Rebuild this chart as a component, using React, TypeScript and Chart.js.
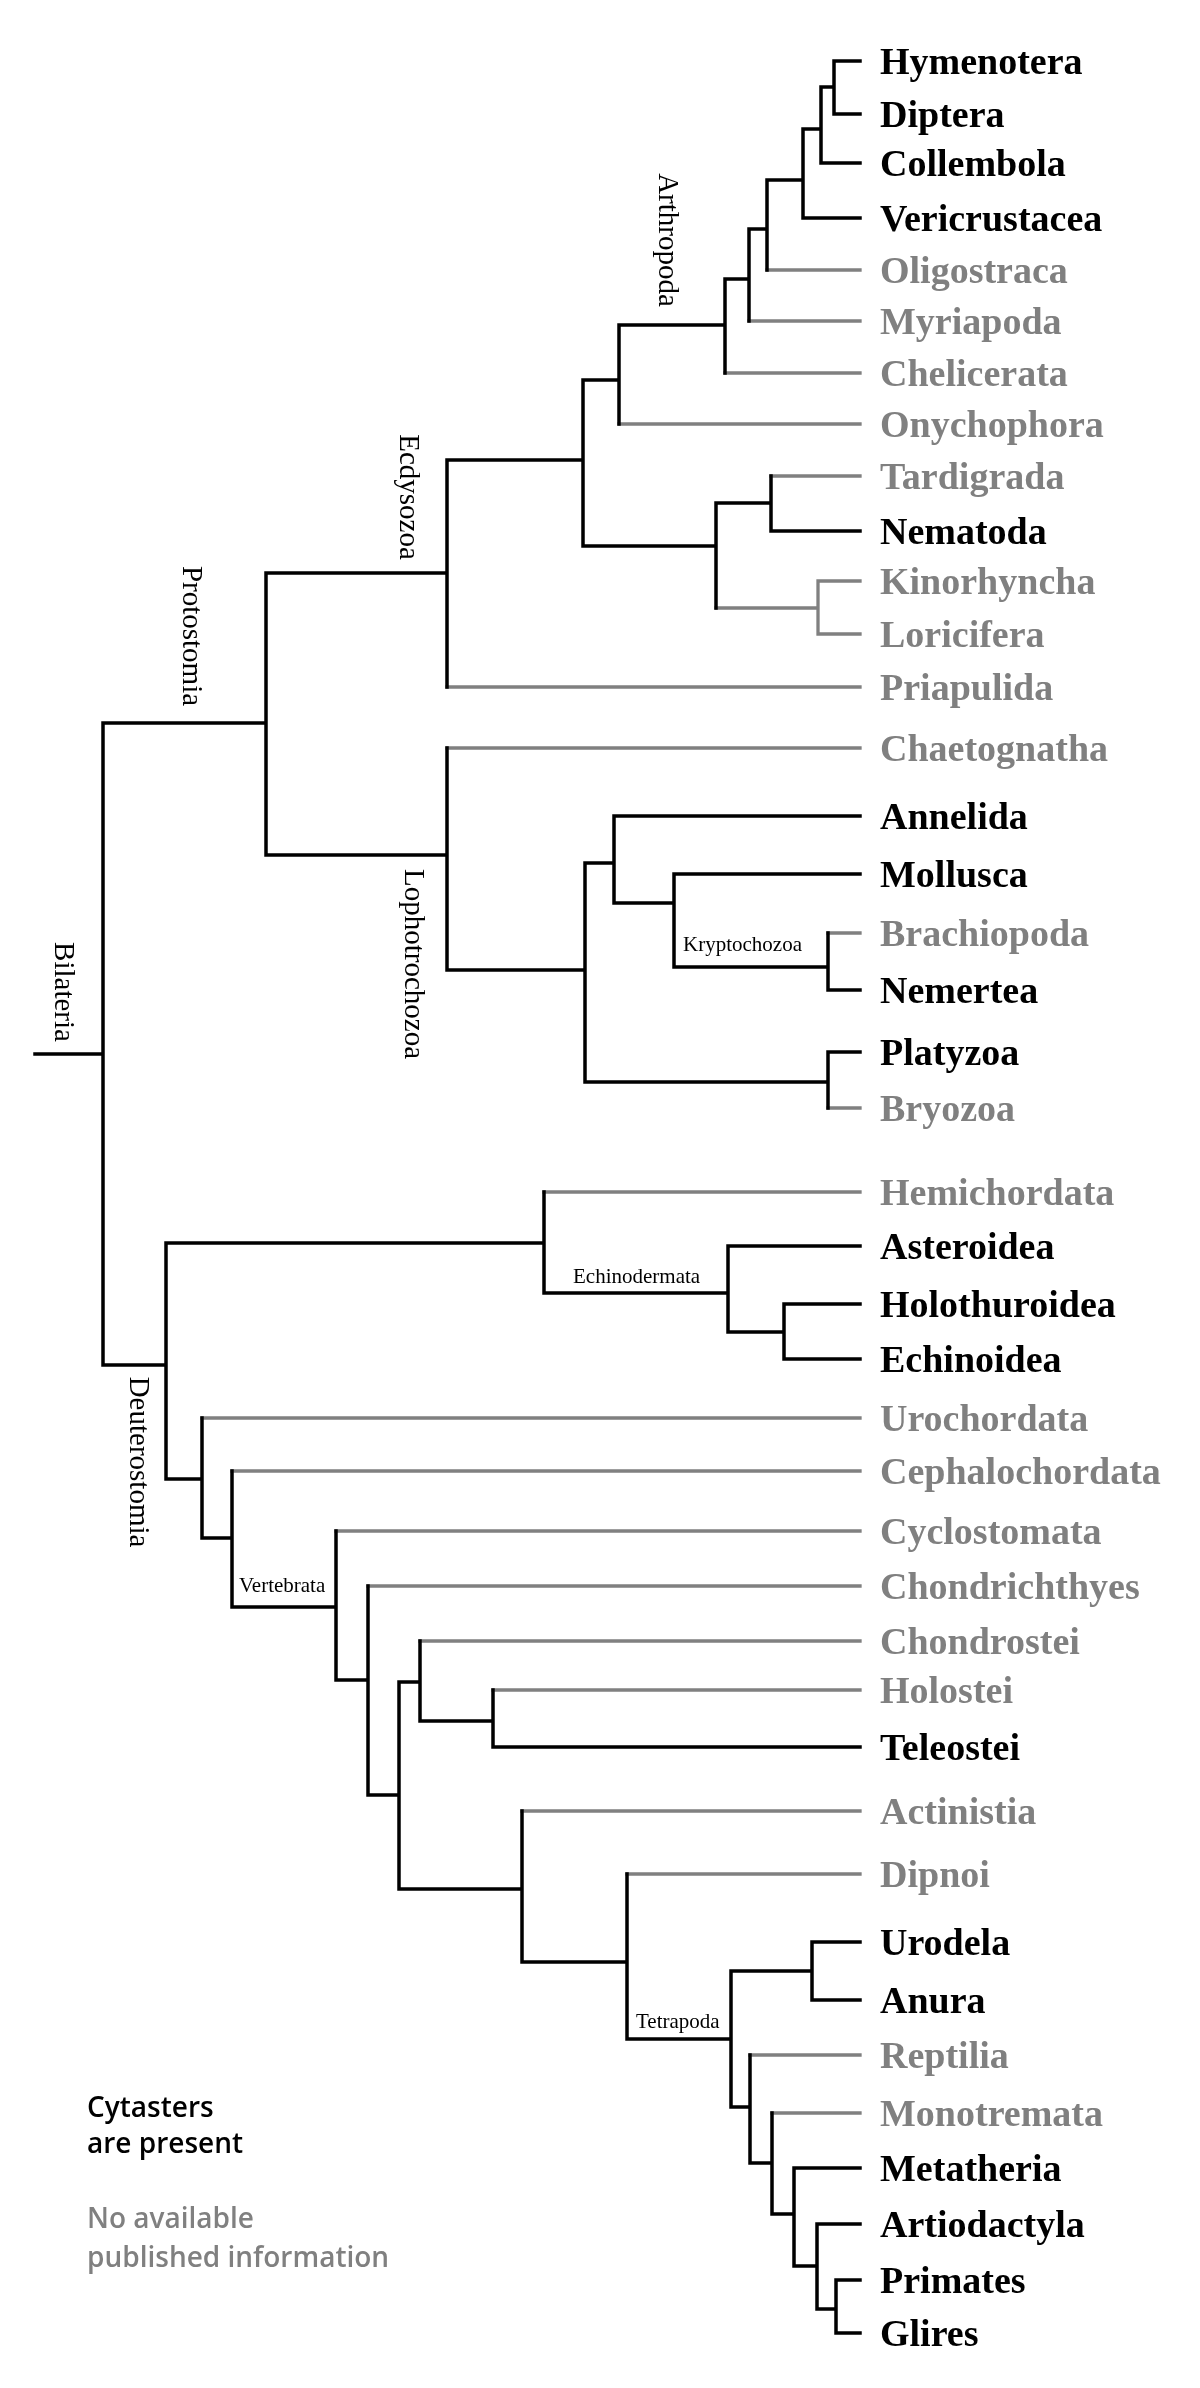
import React, { useEffect, useRef } from "react";
import { Chart, registerables } from "chart.js";

Chart.register(...registerables);

// ---- Taxa (leaves), top to bottom ----
const leafNames = [
  "Hymenotera", "Diptera", "Collembola", "Vericrustacea", "Oligostraca", "Myriapoda",
  "Chelicerata", "Onychophora", "Tardigrada", "Nematoda", "Kinorhyncha", "Loricifera",
  "Priapulida", "Chaetognatha", "Annelida", "Mollusca", "Brachiopoda", "Nemertea",
  "Platyzoa", "Bryozoa", "Hemichordata", "Asteroidea", "Holothuroidea", "Echinoidea",
  "Urochordata", "Cephalochordata", "Cyclostomata", "Chondrichthyes", "Chondrostei",
  "Holostei", "Teleostei", "Actinistia", "Dipnoi", "Urodela", "Anura", "Reptilia",
  "Monotremata", "Metatheria", "Artiodactyla", "Primates", "Glires",
];
// 1 = cytasters are present, 0 = no available published information
const leafPresent = [
  1, 1, 1, 1, 0, 0,
  0, 0, 0, 1, 0, 0,
  0, 0, 1, 1, 0, 1,
  1, 0, 0, 1, 1, 1,
  0, 0, 0, 0, 0,
  0, 1, 0, 0, 1, 1, 0,
  0, 1, 1, 1, 1,
];
// vertical position (row units) of each taxon
const leafRows = [
  61, 114, 163, 218, 270, 321,
  373, 424, 476, 531, 581, 634,
  687, 748, 816, 874, 933, 990,
  1052, 1108, 1192, 1246, 1304, 1359,
  1418, 1471, 1531, 1586, 1641,
  1690, 1747, 1811, 1874, 1942, 2000, 2055,
  2113, 2168, 2224, 2280, 2333,
];

// ---- Internal nodes: children (leaf name or node index), depth, row ----
const nodeChildren: (string | number)[][] = [
  ["Hymenotera", "Diptera"],      // 0
  [0, "Collembola"],              // 1
  [1, "Vericrustacea"],           // 2
  [2, "Oligostraca"],             // 3
  [3, "Myriapoda"],               // 4
  [4, "Chelicerata"],             // 5 Arthropoda
  [5, "Onychophora"],             // 6
  ["Tardigrada", "Nematoda"],     // 7
  ["Kinorhyncha", "Loricifera"],  // 8
  [7, 8],                         // 9
  [6, 9],                         // 10
  [10, "Priapulida"],             // 11 Ecdysozoa
  ["Brachiopoda", "Nemertea"],    // 12 Kryptochozoa
  ["Mollusca", 12],               // 13
  ["Annelida", 13],               // 14
  ["Platyzoa", "Bryozoa"],        // 15
  [14, 15],                       // 16
  ["Chaetognatha", 16],           // 17 Lophotrochozoa
  [11, 17],                       // 18 Protostomia
  ["Holothuroidea", "Echinoidea"],// 19
  ["Asteroidea", 19],             // 20 Echinodermata
  ["Hemichordata", 20],           // 21
  ["Holostei", "Teleostei"],      // 22
  ["Chondrostei", 22],            // 23
  ["Urodela", "Anura"],           // 24
  ["Primates", "Glires"],         // 25
  ["Artiodactyla", 25],           // 26
  ["Metatheria", 26],             // 27
  ["Monotremata", 27],            // 28
  ["Reptilia", 28],               // 29
  [24, 29],                       // 30 Tetrapoda
  ["Dipnoi", 30],                 // 31
  ["Actinistia", 31],             // 32
  [23, 32],                       // 33
  ["Chondrichthyes", 33],         // 34
  ["Cyclostomata", 34],           // 35 Vertebrata
  ["Cephalochordata", 35],        // 36
  ["Urochordata", 36],            // 37
  [21, 37],                       // 38 Deuterostomia
  [18, 38],                       // 39 Bilateria
];
const nodeDepth = [
  834, 821, 803, 767, 749, 725, 619, 771, 818, 716, 583, 447,
  828, 674, 614, 828, 585, 447, 266,
  784, 728, 544, 493, 420, 812, 836, 817, 794, 772, 750, 731,
  627, 522, 399, 368, 336, 232, 202, 166, 103,
];
const nodeRows = [
  87, 129, 180, 229, 279, 325, 380, 503, 608, 546, 460, 573,
  967, 903, 863, 1082, 970, 855, 723,
  1332, 1293, 1243, 1721, 1682, 1971, 2309, 2266, 2214, 2163, 2107, 2039,
  1962, 1889, 1795, 1680, 1607, 1538, 1479, 1365, 1054,
];
const TIP_DEPTH = 860;
const ROOT_STUB_DEPTH = 35;

// ---- Clade names ----
const rotatedCladeNames = ["Arthropoda", "Ecdysozoa", "Protostomia", "Bilateria", "Lophotrochozoa", "Deuterostomia"];
const rotatedCladeDepth = [659, 400, 183, 55, 405, 130];
const rotatedCladeRow = [240, 497, 636, 992, 964, 1462];

const cladeNames = ["Kryptochozoa", "Echinodermata", "Vertebrata", "Tetrapoda"];
const cladeDepth = [683, 573, 239, 636];
const cladeRow = [951, 1283, 1592, 2028];

const legendLines = ["Cytasters", "are present", "No available", "published information"];
const legendPresent = [1, 1, 0, 0];
const legendRows = [2117, 2153, 2228, 2267];
const legendDepth = 87;

const BLACK = "#000000";
const GRAY = "#808080";

type Pt = { x: number; y: number | null };

function buildSegments() {
  const black: Pt[] = [];
  const gray: Pt[] = [];
  const info = (c: string | number) => {
    if (typeof c === "string") {
      const i = leafNames.indexOf(c);
      return { x: TIP_DEPTH, y: leafRows[i], gray: !leafPresent[i] };
    }
    return { x: nodeDepth[c], y: nodeRows[c], gray: nodeGray(c) };
  };
  const nodeGray = (n: number): boolean =>
    nodeChildren[n].every((c) => info(c).gray);
  const push = (arr: Pt[], x1: number, y1: number, x2: number, y2: number) => {
    arr.push({ x: x1, y: y1 }, { x: x2, y: y2 }, { x: x2, y: null });
  };
  nodeChildren.forEach((kids, n) => {
    const x = nodeDepth[n];
    const a = info(kids[0]);
    const b = info(kids[1]);
    push(nodeGray(n) ? gray : black, x, a.y, x, b.y);
    [a, b].forEach((c) => push(c.gray ? gray : black, x, c.y, c.x, c.y));
  });
  const root = nodeChildren.length - 1;
  push(black, ROOT_STUB_DEPTH, nodeRows[root], nodeDepth[root], nodeRows[root]);
  return { black, gray };
}

const labelPlugin = {
  id: "treeLabels",
  afterDraw(chart: any) {
    const ctx = chart.ctx as CanvasRenderingContext2D;
    const xs = chart.scales.x;
    const ys = chart.scales.y;
    ctx.save();
    // taxa
    ctx.font = 'bold 38px "Liberation Serif", "Times New Roman", serif';
    ctx.textAlign = "left";
    ctx.textBaseline = "alphabetic";
    leafNames.forEach((name, i) => {
      ctx.fillStyle = leafPresent[i] ? BLACK : GRAY;
      ctx.fillText(name, xs.getPixelForValue(TIP_DEPTH) + 20, ys.getPixelForValue(leafRows[i]) + 13);
    });
    // rotated clade names
    ctx.fillStyle = BLACK;
    ctx.font = '29px "Liberation Serif", "Times New Roman", serif';
    rotatedCladeNames.forEach((name, i) => {
      ctx.save();
      ctx.translate(xs.getPixelForValue(rotatedCladeDepth[i]), ys.getPixelForValue(rotatedCladeRow[i]));
      ctx.rotate(Math.PI / 2);
      ctx.textAlign = "center";
      ctx.textBaseline = "alphabetic";
      ctx.fillText(name, 0, 0);
      ctx.restore();
    });
    // small clade names
    ctx.font = '21px "Liberation Serif", "Times New Roman", serif';
    ctx.textAlign = "left";
    cladeNames.forEach((name, i) => {
      ctx.fillText(name, xs.getPixelForValue(cladeDepth[i]), ys.getPixelForValue(cladeRow[i]));
    });
    // legend
    ctx.font = '600 28px "Open Sans", "Noto Sans", sans-serif';
    legendLines.forEach((t, i) => {
      ctx.fillStyle = legendPresent[i] ? BLACK : GRAY;
      ctx.fillText(t, xs.getPixelForValue(legendDepth), ys.getPixelForValue(legendRows[i]));
    });
    ctx.restore();
  },
};

export default function App() {
  const ref = useRef<HTMLCanvasElement | null>(null);
  useEffect(() => {
    document.body.style.margin = "0";
    const canvas = ref.current;
    if (!canvas) return;
    const { black, gray } = buildSegments();
    const common = {
      showLine: true,
      pointRadius: 0,
      pointHoverRadius: 0,
      fill: false,
      tension: 0,
      spanGaps: false,
      borderCapStyle: "square" as const,
      borderJoinStyle: "miter" as const,
    };
    const chart = new Chart(canvas, {
      type: "scatter",
      data: {
        datasets: [
          { ...common, data: black as any, borderColor: BLACK, borderWidth: 3.5 },
          { ...common, data: gray as any, borderColor: GRAY, borderWidth: 3.3 },
        ],
      },
      options: {
        animation: false,
        responsive: false,
        devicePixelRatio: 1,
        layout: { padding: 0 },
        plugins: { legend: { display: false }, tooltip: { enabled: false }, title: { display: false } },
        events: [],
        scales: {
          x: { type: "linear", min: 0, max: 1200, display: false },
          y: { type: "linear", min: 0, max: 2388, reverse: true, display: false },
        },
      },
      plugins: [labelPlugin],
    });
    return () => chart.destroy();
  }, []);
  return (
    <div style={{ width: 1200, height: 2388, background: "#ffffff" }}>
      <canvas ref={ref} width={1200} height={2388} style={{ display: "block", width: 1200, height: 2388 }} />
    </div>
  );
}
